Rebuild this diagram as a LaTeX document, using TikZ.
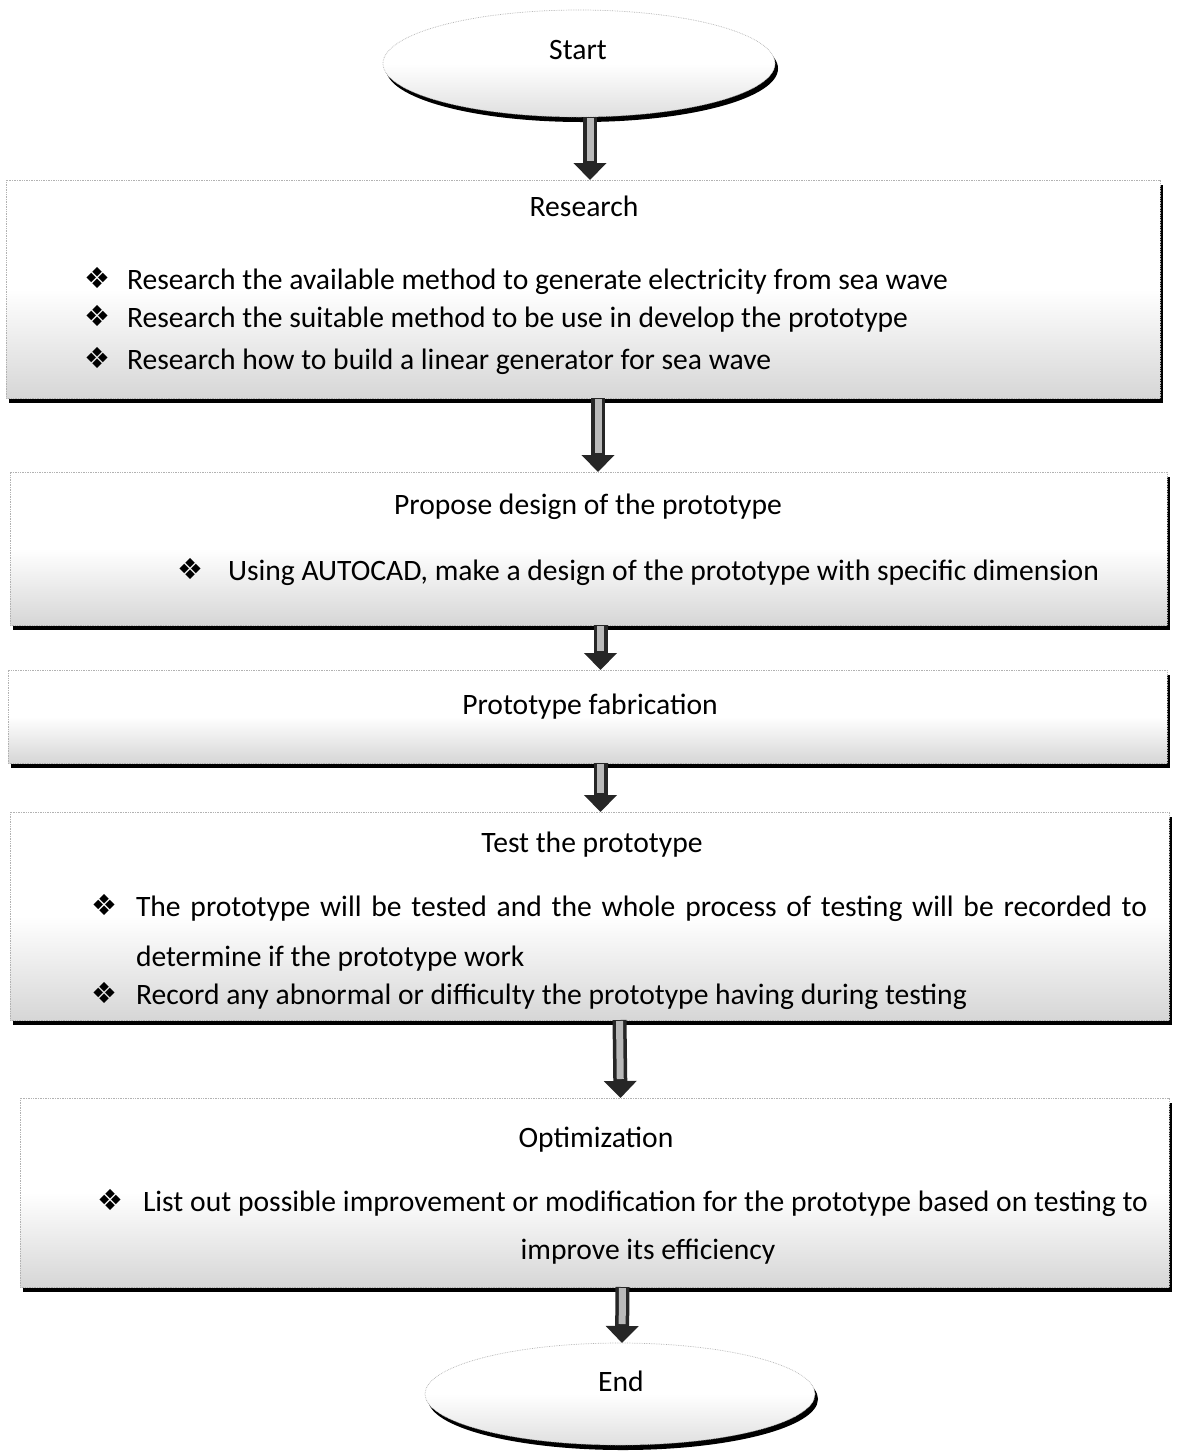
\documentclass[tikz,border=0pt]{standalone}
\usepackage{fontspec}
\setmainfont{Carlito}
\newfontfamily\dingfont{DejaVu Sans}
\usetikzlibrary{arrows.meta,shapes.geometric,shadows}

\newcommand\bulletmark{{\dingfont\fontsize{29}{31}\selectfont ❖}}

\begin{document}
\begin{tikzpicture}[x=1pt,y=-1pt,
  every node/.style={inner sep=0pt, outer sep=0pt},
  txt/.style={font=\fontsize{29.6}{34}\selectfont, anchor=base},
  ltxt/.style={font=\fontsize{29.6}{34}\selectfont, anchor=base west},
  bulletnode/.style={anchor=base, yshift=1pt},
  stage/.style={rectangle, draw=gray!60, densely dotted, line width=0.7pt,
    top color=white, bottom color=gray!32, middle color=white,
    drop shadow={shadow xshift=3pt, shadow yshift=-5pt, fill=black, opacity=1}},
  terminal/.style={ellipse, draw=gray!60, densely dotted, line width=0.7pt,
    top color=white, bottom color=gray!25, middle color=white,
    drop shadow={shadow xshift=3pt, shadow yshift=-5pt, fill=black, opacity=1}},
  flow/.style={line width=14pt, draw=black!85, -{Triangle[width=32pt,length=17pt]}},
  flowcore/.style={line width=7pt, draw=gray!55, shorten >=19pt, shorten <=1pt},
]
\useasboundingbox (0,0) rectangle (1181,1452);

% terminals and stages
\node[terminal, minimum width=392pt, minimum height=107pt] (start) at (579,63.5) {};
\node[stage, minimum width=1154pt, minimum height=218pt] (research) at (583,289) {};
\node[stage, minimum width=1157pt, minimum height=153pt] (design) at (588.5,548.5) {};
\node[stage, minimum width=1159pt, minimum height=93pt] (fabrication) at (587.5,716.5) {};
\node[stage, minimum width=1159pt, minimum height=208pt] (test) at (589.5,916) {};
\node[stage, minimum width=1149pt, minimum height=189pt] (optim) at (594.5,1192.5) {};
\node[terminal, minimum width=390pt, minimum height=102pt] (end) at (620,1394) {};

% texts (positions are baselines)
\node[txt] (tstart) at (578,59) {Start};
\node[txt] (tend) at (621,1391) {End};

\node[txt] (hres) at (584,216) {Research};
\node[bulletnode] (b11) at (97,289) {\bulletmark};
\node[ltxt] (r11) at (127,289) {Research the available method to generate electricity from sea wave};
\node[bulletnode] (b12) at (97,327) {\bulletmark};
\node[ltxt] (r12) at (127,327) {Research the suitable method to be use in develop the prototype};
\node[bulletnode] (b13) at (97,369) {\bulletmark};
\node[ltxt] (r13) at (127,369) {Research how to build a linear generator for sea wave};

\node[txt] (hdes) at (588,514) {Propose design of the prototype};
\node[bulletnode] (b21) at (190,580) {\bulletmark};
\node[ltxt] (r21) at (228,580) {Using AUTOCAD, make a design of the prototype with specific dimension};

\node[txt] (hfab) at (590,714) {Prototype fabrication};

\node[txt] (htest) at (592,852) {Test the prototype};
\node[bulletnode] (b41) at (104,916) {\bulletmark};
\node[ltxt] (r41) at (136,916) {\makebox[1011pt][s]{The prototype will be tested and the whole process of testing will be recorded to}};
\node[ltxt] (r41b) at (136,966) {determine if the prototype work};
\node[bulletnode] (b42) at (104,1004) {\bulletmark};
\node[ltxt] (r42) at (136,1004) {Record any abnormal or difficulty the prototype having during testing};

\node[txt] (hopt) at (596,1147) {Optimization};
\node[bulletnode] (b51) at (110,1211) {\bulletmark};
\node[ltxt] (r51) at (143,1211) {\makebox[1005pt][s]{List out possible improvement or modification for the prototype based on testing to}};
\node[txt] (r51b) at (648,1259) {improve its efficiency};

% block arrows between stages
\foreach \a/\sa/\b/\sb in {start/11/research/7, research/15/design/9.5,
    design/12/fabrication/13, fabrication/13/test/11, test/30/optim/26, optim/28/end/2}{
  \draw[flow] ([xshift=\sa pt]\a.south) -- ([xshift=\sb pt]\b.north);
  \draw[flowcore] ([xshift=\sa pt]\a.south) -- ([xshift=\sb pt]\b.north);
}
\end{tikzpicture}
\end{document}
